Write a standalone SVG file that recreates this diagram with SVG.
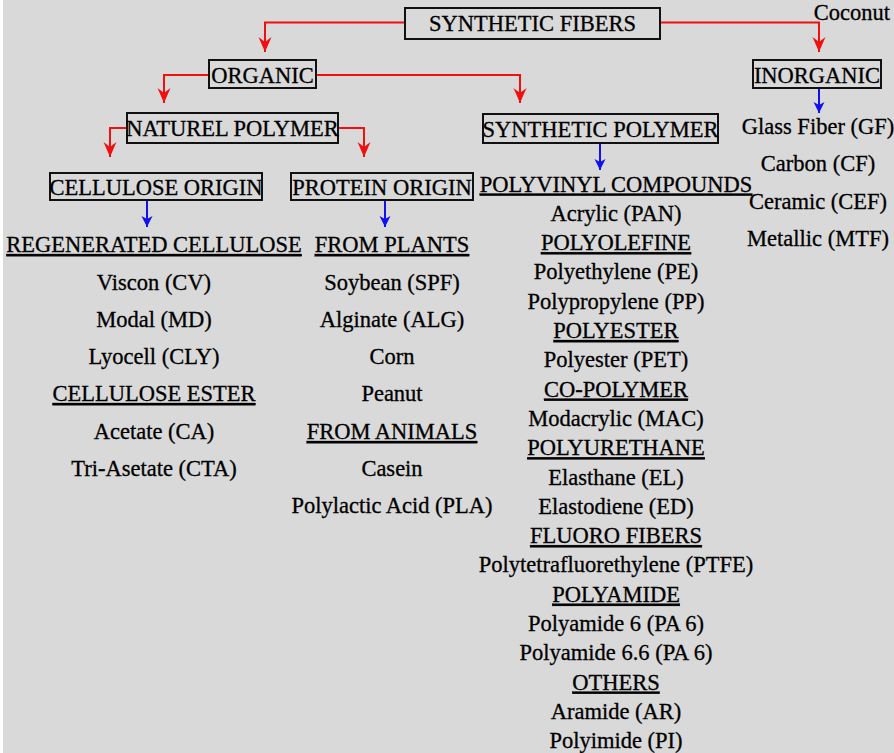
<svg xmlns="http://www.w3.org/2000/svg" width="894" height="753" viewBox="0 0 894 753">
<style>
.t text{font-family:"Liberation Serif";font-size:22.5px;fill:#000;stroke:#000;stroke-width:0.3;text-anchor:middle}
.t .u{text-decoration:underline}
.box{fill:#d9d9d9;stroke:#111;stroke-width:2}
.red{fill:none;stroke:#f01010;stroke-width:2}
.blue{fill:none;stroke:#1010f0;stroke-width:2}
</style>
<defs>
<marker id="ar" markerUnits="userSpaceOnUse" viewBox="0 -7 15 14" refX="15" refY="0" markerWidth="15" markerHeight="14" orient="auto">
<path d="M0,-6.5 L15,0 L0,6.5 L5,0 Z" fill="#f01010"/>
</marker>
<marker id="ab" markerUnits="userSpaceOnUse" viewBox="0 -6 11 12" refX="11" refY="0" markerWidth="11" markerHeight="12" orient="auto">
<path d="M0,-5.5 L11,0 L0,5.5 L3,0 Z" fill="#1010f0"/>
</marker>
</defs>
<rect x="0" y="0" width="894" height="753" fill="#d9d9d9"/>
<rect x="0" y="0" width="3" height="753" fill="#ffffff"/>

<g id="connectors">
<path class="red" d="M404,22.5 H265 V52" marker-end="url(#ar)"/>
<path class="red" d="M660,22.5 H819 V52" marker-end="url(#ar)"/>
<path class="red" d="M209,75 H164 V103" marker-end="url(#ar)"/>
<path class="red" d="M316,75 H520 V103" marker-end="url(#ar)"/>
<path class="red" d="M127,128 H110 V157" marker-end="url(#ar)"/>
<path class="red" d="M338,128 H364 V157" marker-end="url(#ar)"/>
<path class="blue" d="M819,88 V113" marker-end="url(#ab)"/>
<path class="blue" d="M147,200 V227" marker-end="url(#ab)"/>
<path class="blue" d="M385,200 V227" marker-end="url(#ab)"/>
<path class="blue" d="M600,143 V170" marker-end="url(#ab)"/>
</g>

<g class="t">
<g id="coconut"><text x="890" y="20" style="text-anchor:end">Coconut</text></g>
<g id="synthetic-fibers"><rect class="box" x="405" y="8" width="255" height="31"/><text x="532.5" y="30.5">SYNTHETIC FIBERS</text></g>
<g id="organic"><rect class="box" x="209" y="60" width="107" height="28"/><text x="262.5" y="83">ORGANIC</text></g>
<g id="inorganic"><rect class="box" x="753" y="60" width="128" height="28"/><text x="817" y="83">INORGANIC</text></g>
<g id="naturel-polymer"><rect class="box" x="127" y="113" width="211" height="30"/><text x="232.5" y="135.5">NATUREL POLYMER</text></g>
<g id="synthetic-polymer"><rect class="box" x="483" y="114" width="235" height="29"/><text x="600.5" y="137">SYNTHETIC POLYMER</text></g>
<g id="cellulose-origin"><rect class="box" x="50" y="173" width="212" height="27"/><text x="156" y="195">CELLULOSE ORIGIN</text></g>
<g id="protein-origin"><rect class="box" x="291" y="173" width="182" height="27"/><text x="382" y="195">PROTEIN ORIGIN</text></g>

<g id="inorganic-list">
<text x="818" y="134">Glass Fiber (GF)</text>
<text x="818" y="171">Carbon (CF)</text>
<text x="818" y="209">Ceramic (CEF)</text>
<text x="818" y="246">Metallic (MTF)</text>
</g>

<g id="cellulose-list">
<text class="u" x="154" y="252">REGENERATED CELLULOSE</text>
<text x="154" y="290">Viscon (CV)</text>
<text x="154" y="327">Modal (MD)</text>
<text x="154" y="364">Lyocell (CLY)</text>
<text class="u" x="154" y="401">CELLULOSE ESTER</text>
<text x="154" y="439">Acetate (CA)</text>
<text x="154" y="476">Tri-Asetate (CTA)</text>
</g>

<g id="protein-list">
<text class="u" x="392" y="252">FROM PLANTS</text>
<text x="392" y="290">Soybean (SPF)</text>
<text x="392" y="327">Alginate (ALG)</text>
<text x="392" y="364">Corn</text>
<text x="392" y="401">Peanut</text>
<text class="u" x="392" y="439">FROM ANIMALS</text>
<text x="392" y="476">Casein</text>
<text x="392" y="513">Polylactic Acid (PLA)</text>
</g>

<g id="synthetic-list">
<text class="u" x="616" y="191.5">POLYVINYL COMPOUNDS</text>
<text x="616" y="220.8">Acrylic (PAN)</text>
<text class="u" x="616" y="250.1">POLYOLEFINE</text>
<text x="616" y="279.4">Polyethylene (PE)</text>
<text x="616" y="308.7">Polypropylene (PP)</text>
<text class="u" x="616" y="338">POLYESTER</text>
<text x="616" y="367.3">Polyester (PET)</text>
<text class="u" x="616" y="396.6">CO-POLYMER</text>
<text x="616" y="425.9">Modacrylic (MAC)</text>
<text class="u" x="616" y="455.2">POLYURETHANE</text>
<text x="616" y="484.5">Elasthane (EL)</text>
<text x="616" y="513.8">Elastodiene (ED)</text>
<text class="u" x="616" y="543.1">FLUORO FIBERS</text>
<text x="616" y="572.4">Polytetrafluorethylene (PTFE)</text>
<text class="u" x="616" y="601.7">POLYAMIDE</text>
<text x="616" y="631">Polyamide 6 (PA 6)</text>
<text x="616" y="660.3">Polyamide 6.6 (PA 6)</text>
<text class="u" x="616" y="689.6">OTHERS</text>
<text x="616" y="718.9">Aramide (AR)</text>
<text x="616" y="748.2">Polyimide (PI)</text>
</g>
</g>
</svg>
